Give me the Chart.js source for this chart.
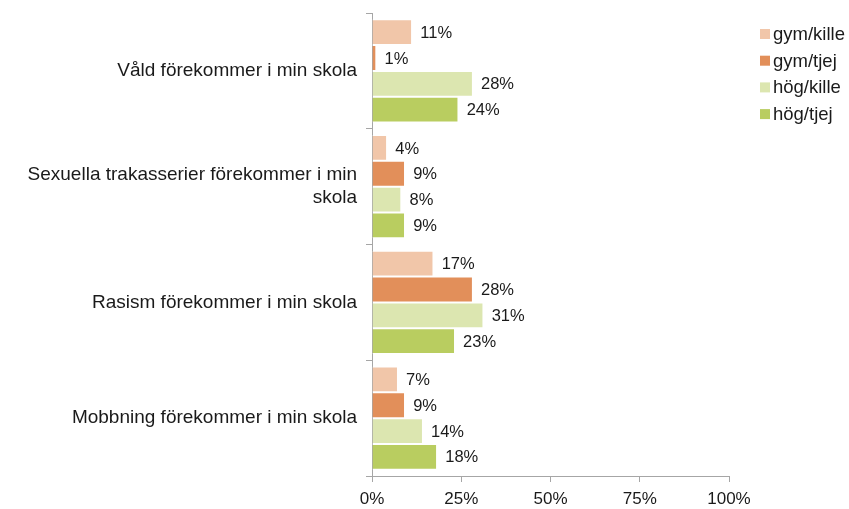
<!DOCTYPE html>
<html>
<head>
<meta charset="utf-8">
<script src="https://cdn.jsdelivr.net/npm/chart.js@4/dist/chart.umd.min.js"></script>
<style>
  html, body { margin: 0; padding: 0; background: #fff; }
  #wrap { width: 849px; height: 509px; position: relative; }
</style>
</head>
<body>
<div id="wrap"><canvas id="chart"></canvas></div>
<script>
const categories = [
  "Våld förekommer i min skola",
  ["Sexuella trakasserier förekommer i min", "skola"],
  "Rasism förekommer i min skola",
  "Mobbning förekommer i min skola",
];
const gymKille = [11, 4, 17, 7];
const gymTjej = [1, 9, 28, 9];
const hogKille = [28, 8, 31, 14];
const hogTjej = [24, 9, 23, 18];
const seriesNames = ["gym/kille", "gym/tjej", "hög/kille", "hög/tjej"];
const seriesColors = ["#f1c6a9", "#e28f5a", "#dce6b0", "#b9cd60"];
const xTicks = [0, 25, 50, 75, 100];

const FONT = "'Liberation Sans', Arial, sans-serif";
const TEXT = "#1a1a1a";
const AXIS = "#a6a6a6";

// value labels right of each bar
const valueLabels = {
  id: "valueLabels",
  afterDatasetsDraw(chart) {
    const ctx = chart.ctx;
    ctx.save();
    ctx.font = `16.5px ${FONT}`;
    ctx.fillStyle = TEXT;
    ctx.textAlign = "left";
    ctx.textBaseline = "middle";
    chart.data.datasets.forEach((ds, i) => {
      chart.getDatasetMeta(i).data.forEach((bar, j) => {
        ctx.fillText(`${ds.data[j]}%`, bar.x + 9, bar.y + 1);
      });
    });
    ctx.restore();
  },
};

// legend drawn in the right margin
const sideLegend = {
  id: "sideLegend",
  afterDraw(chart) {
    const ctx = chart.ctx;
    ctx.save();
    ctx.font = `18.5px ${FONT}`;
    ctx.textBaseline = "middle";
    ctx.textAlign = "left";
    seriesNames.forEach((name, i) => {
      const y = 34 + i * 26.7;
      ctx.fillStyle = seriesColors[i];
      ctx.fillRect(760, y - 5, 10, 10);
      ctx.fillStyle = TEXT;
      ctx.fillText(name, 773, y + 1);
    });
    ctx.restore();
  },
};

new Chart(document.getElementById("chart"), {
  type: "bar",
  data: {
    labels: categories,
    datasets: [gymKille, gymTjej, hogKille, hogTjej].map((d, i) => ({
      label: seriesNames[i],
      data: d,
      backgroundColor: seriesColors[i],
      borderColor: "#ffffff",
      borderWidth: { top: 1, bottom: 1, left: 0, right: 0 },
      borderSkipped: false,
      categoryPercentage: 0.89,
      barPercentage: 1,
    })),
  },
  options: {
    indexAxis: "y",
    responsive: true,
    maintainAspectRatio: false,
    animation: false,
    layout: { padding: { top: 13, right: 120, bottom: 0, left: 0 } },
    plugins: {
      legend: { display: false },
      tooltip: { enabled: false },
    },
    scales: {
      x: {
        min: 0,
        max: 100,
        afterBuildTicks: (s) => { s.ticks = xTicks.map((v) => ({ value: v })); },
        afterFit: (s) => { s.height = 33; },
        border: { color: AXIS, width: 1 },
        grid: { drawOnChartArea: false, drawTicks: true, tickLength: 6, color: AXIS },
        ticks: {
          color: TEXT,
          padding: 7,
          font: { family: FONT, size: 17 },
          callback: (v) => `${v}%`,
          maxRotation: 0,
        },
      },
      y: {
        afterFit: (s) => {
          s.width = 372;
          s.paddingTop = 0;
          s.paddingBottom = 0;
        },
        border: { color: AXIS, width: 1 },
        grid: { drawOnChartArea: false, drawTicks: true, tickLength: 6, color: AXIS, offset: true },
        ticks: {
          color: TEXT,
          padding: 9,
          font: { family: FONT, size: 19, lineHeight: 1.21 },
        },
      },
    },
  },
  plugins: [valueLabels, sideLegend],
});
</script>
</body>
</html>
